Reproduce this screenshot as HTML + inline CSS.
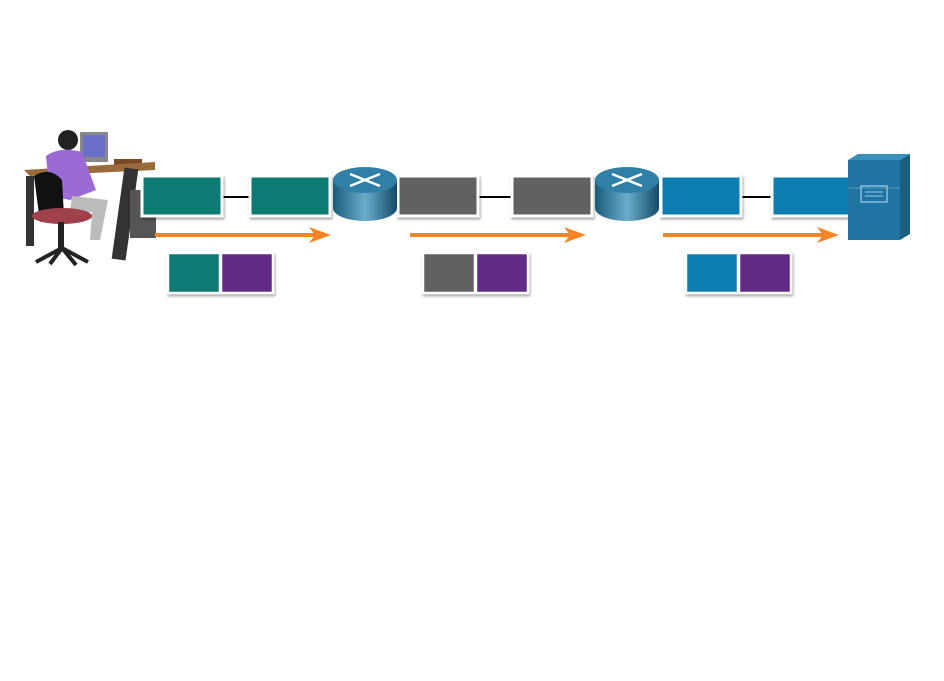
<!DOCTYPE html>
<html><head><style>body{margin:0;background:#fff}svg{display:block}</style></head><body>
<svg width="944" height="681" viewBox="0 0 944 681" xmlns="http://www.w3.org/2000/svg">
<defs>
<filter id="sh" x="-10%" y="-10%" width="130%" height="140%"><feDropShadow dx="1" dy="2" stdDeviation="1.2" flood-opacity="0.35"/></filter>
<linearGradient id="rg" x1="0" x2="1"><stop offset="0" stop-color="#1a5a7a"/><stop offset="0.5" stop-color="#6aaecb"/><stop offset="1" stop-color="#134b68"/></linearGradient>
</defs>
<!-- lines -->
<g stroke="#000" stroke-width="2"><line x1="222" y1="197" x2="250" y2="197"/><line x1="478" y1="197" x2="512" y2="197"/><line x1="741" y1="197" x2="772" y2="197"/></g>
<!-- person / desk -->
<g>
<rect x="80" y="132" width="28" height="30" fill="#888"/><rect x="83" y="135" width="22" height="22" fill="#6a6fc9"/>
<rect x="114" y="159" width="28" height="10" fill="#7a4a26"/>
<polygon points="24,170 155,162 155,170 30,176" fill="#9a6a3a"/>
<rect x="118" y="168" width="14" height="92" fill="#333" transform="rotate(8 125 214)"/>
<rect x="130" y="190" width="26" height="48" fill="#555"/>
<rect x="26" y="176" width="8" height="70" fill="#333"/>
<circle cx="68" cy="140" r="10" fill="#222"/>
<path d="M46 156 Q60 146 82 152 L96 190 L70 200 L50 196 Z" fill="#9b6ad6"/>
<path d="M72 196 L108 200 L100 240 L90 240 L92 212 L70 212Z" fill="#bbb"/>
<path d="M34 176 Q50 166 62 180 L64 216 L40 222 Z" fill="#111"/>
<ellipse cx="62" cy="216" rx="30" ry="8" fill="#a0404a"/>
<rect x="58" y="222" width="6" height="26" fill="#222"/>
<path d="M36 262 L62 248 L88 262 M62 248 L50 264 M62 248 L76 265" stroke="#222" stroke-width="4" fill="none"/>
</g>
<!-- top boxes -->
<g stroke="#fff" stroke-width="3" filter="url(#sh)">
<rect x="142" y="176" width="80" height="40" fill="#077a73"/>
<rect x="250" y="176" width="80" height="40" fill="#077a73"/>
<rect x="398" y="176" width="80" height="40" fill="#646062"/>
<rect x="512" y="176" width="80" height="40" fill="#646062"/>
<rect x="661" y="176" width="80" height="40" fill="#087db3"/>
<rect x="772" y="176" width="80" height="40" fill="#087db3"/>
</g>
<!-- routers -->
<g id="r">
<path d="M333 180 L333 208 A32 13 0 0 0 397 208 L397 180 Z" fill="url(#rg)"/>
<ellipse cx="365" cy="180" rx="32" ry="13" fill="#2f7fa6"/>
<g stroke="#fff" stroke-width="2.5"><line x1="350" y1="174" x2="380" y2="186"/><line x1="380" y1="174" x2="350" y2="186"/></g>
</g>
<use href="#r" x="262"/>
<!-- server -->
<polygon points="848,160 858,154 910,154 900,160" fill="#3a8fb8"/>
<polygon points="900,160 910,154 910,234 900,240" fill="#1a5f82"/>
<rect x="848" y="160" width="52" height="80" fill="#2074a3"/>
<line x1="848" y1="188" x2="900" y2="188" stroke="#4f9ac0"/>
<rect x="861" y="186" width="26" height="16" fill="none" stroke="#9cc8e0" stroke-width="1.3"/>
<line x1="865" y1="192" x2="883" y2="192" stroke="#9cc8e0"/><line x1="865" y1="196" x2="883" y2="196" stroke="#9cc8e0"/>
<!-- arrows -->
<g fill="#f58426">
<rect x="155" y="233" width="160" height="4"/><polygon points="309,227 331,235 309,243 315,235"/>
<rect x="410" y="233" width="160" height="4"/><polygon points="564,227 586,235 564,243 570,235"/>
<rect x="663" y="233" width="160" height="4"/><polygon points="817,227 839,235 817,243 823,235"/>
</g>
<!-- bottom boxes -->
<g stroke="#fff" stroke-width="2.5" filter="url(#sh)">
<rect x="168" y="253" width="52" height="40" fill="#077a73"/><rect x="221" y="253" width="52" height="40" fill="#622c87"/>
<rect x="423" y="253" width="52" height="40" fill="#646062"/><rect x="476" y="253" width="52" height="40" fill="#622c87"/>
<rect x="686" y="253" width="52" height="40" fill="#087db3"/><rect x="739" y="253" width="52" height="40" fill="#622c87"/>
</g>
</svg>
</body></html>
